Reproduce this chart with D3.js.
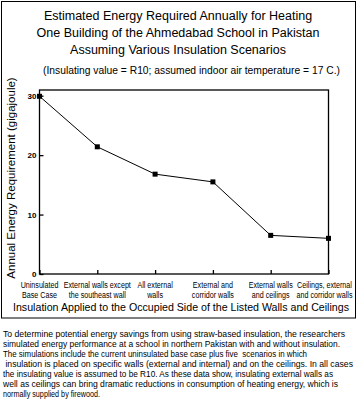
<!DOCTYPE html>
<html>
<head>
<meta charset="utf-8">
<script src="https://cdn.jsdelivr.net/npm/d3@7"></script>
<style>
  body { margin: 0; background: #fff; }
  svg { display: block; }
  text { fill: #000; }
</style>
</head>
<body>
<svg id="screen"></svg>
<script>
// chart data
const titleLines = [
  "Estimated Energy Required Annually for Heating",
  "One Building of the Ahmedabad School in Pakistan",
  "Assuming Various Insulation Scenarios"
]
const subtitle = "(Insulating value = R10; assumed indoor air temperature = 17 C.)"
const scenarios = [
  ["Uninsulated", "Base Case"],
  ["External walls except", "the southeast wall"],
  ["All external", "walls"],
  ["External and", "corridor walls"],
  ["External walls", "and ceilings"],
  ["Ceilings, external", "and corridor walls"]
]
const energy = [29.9, 21.4, 16.8, 15.5, 6.5, 6.0]
const yTicks = [0, 10, 20, 30]
const yLabel = "Annual Energy Requirement (gigajoule)"
const xLabel = "Insulation Applied to the Occupied Side of the Listed Walls and Ceilings"
const caption = [
  "To determine potential energy savings from using straw-based insulation, the researchers",
  "simulated energy performance at a school in northern Pakistan with and without insulation.",
  "The simulations include the current uninsulated base case plus five  scenarios in which",
  " insulation is placed on specific walls (external and internal) and on the ceilings. In all cases",
  "the insulating value is assumed to be R10. As these data show, insulating external walls as",
  "well as ceilings can bring dramatic reductions in consumption of heating energy, which is",
  "normally supplied by firewood."
]
// widths of the caption lines in the picture
const captionWidths = [342, 337, 304, 350, 330, 335, 97]

let svg = {width: 361, height: 410}
let plot = {left: 39.5, right: 328.5, top: 90, bottom: 274}

let frame = d3.select('#screen')
  .attr("width", svg.width)
  .attr("height", svg.height)
  .style("font-family", "'Liberation Sans', Arial, sans-serif")

// outer box around chart
frame.append("rect")
  .attr("x", 1.5).attr("y", 1.5)
  .attr("width", 354).attr("height", 316.5)
  .attr("fill", "none").attr("stroke", "#000").attr("stroke-width", 1)

// title
titleLines.forEach(function(t, i){
  frame.append("text")
    .attr("x", 178).attr("y", 20 + i * 17)
    .attr("text-anchor", "middle")
    .attr("font-size", 12.5)
    .text(t)
})
frame.append("text")
  .attr("x", 191.5).attr("y", 74)
  .attr("text-anchor", "middle")
  .attr("font-size", 10)
  .attr("textLength", 297)
  .attr("lengthAdjust", "spacingAndGlyphs")
  .text(subtitle)

// scales
let x = d3.scalePoint()
  .domain(d3.range(scenarios.length))
  .range([plot.left, plot.right])
let y = d3.scaleLinear()
  .domain([0, 30])
  .range([plot.bottom, 95.7])

// plot frame
frame.append("rect")
  .attr("x", plot.left).attr("y", plot.top)
  .attr("width", plot.right - plot.left).attr("height", plot.bottom - plot.top)
  .attr("fill", "none").attr("stroke", "#000").attr("stroke-width", 1.3)

// y axis (ticks point inward)
let yAxis = frame.append("g")
  .attr("transform", "translate(" + plot.left + ",0)")
  .call(d3.axisRight(y).tickValues(yTicks).tickSize(4).tickFormat(d3.format("d")))
yAxis.select(".domain").remove()
yAxis.selectAll("line").attr("stroke-width", 1.3)
yAxis.selectAll("text")
  .attr("x", -3).attr("text-anchor", "end")
  .attr("font-size", 8).attr("font-weight", "bold")
  .attr("font-family", "'Liberation Sans', Arial, sans-serif")

// x axis (ticks point inward)
let xAxis = frame.append("g")
  .attr("transform", "translate(0," + plot.bottom + ")")
  .call(d3.axisTop(x).tickSize(4).tickFormat(""))
xAxis.select(".domain").remove()
xAxis.selectAll("line").attr("stroke-width", 1.3)

// two-line category labels, squeezed like the narrow font of the original
scenarios.forEach(function(lines, i){
  let cx = x(i)
  if (i == scenarios.length - 1) cx = cx - 4
  lines.forEach(function(l, j){
    let t = frame.append("text")
      .attr("x", cx).attr("y", 288 + j * 10)
      .attr("text-anchor", "middle")
      .attr("font-size", 8.5)
      .text(l)
    let w = t.node().getComputedTextLength()
    t.attr("textLength", w * 0.84).attr("lengthAdjust", "spacingAndGlyphs")
  })
})

// axis titles
frame.append("text")
  .attr("transform", "translate(15," + 178 + ") rotate(-90)")
  .attr("text-anchor", "middle")
  .attr("font-size", 11.5)
  .text(yLabel)

frame.append("text")
  .attr("x", 181).attr("y", 311)
  .attr("text-anchor", "middle")
  .attr("font-size", 11.5)
  .attr("textLength", 336)
  .attr("lengthAdjust", "spacingAndGlyphs")
  .text(xLabel)

// the line and its markers
let line = d3.line()
  .x((d, i) => x(i))
  .y(d => y(d))
frame.append("path")
  .datum(energy)
  .attr("d", line)
  .attr("fill", "none")
  .attr("stroke", "#000")
  .attr("stroke-width", 1)

frame.selectAll(".mark")
  .data(energy)
  .enter()
  .append("rect")
  .attr("class", "mark")
  .attr("x", (d, i) => x(i) - 2.5)
  .attr("y", d => y(d) - 2.5)
  .attr("width", 5).attr("height", 5)
  .attr("fill", "#000")

// caption below the box
caption.forEach(function(c, i){
  frame.append("text")
    .attr("x", 3).attr("y", 337 + i * 10)
    .attr("font-size", 9)
    .attr("textLength", captionWidths[i])
    .attr("lengthAdjust", "spacingAndGlyphs")
    .attr("xml:space", "preserve")
    .text(c)
})
</script>
</body>
</html>
